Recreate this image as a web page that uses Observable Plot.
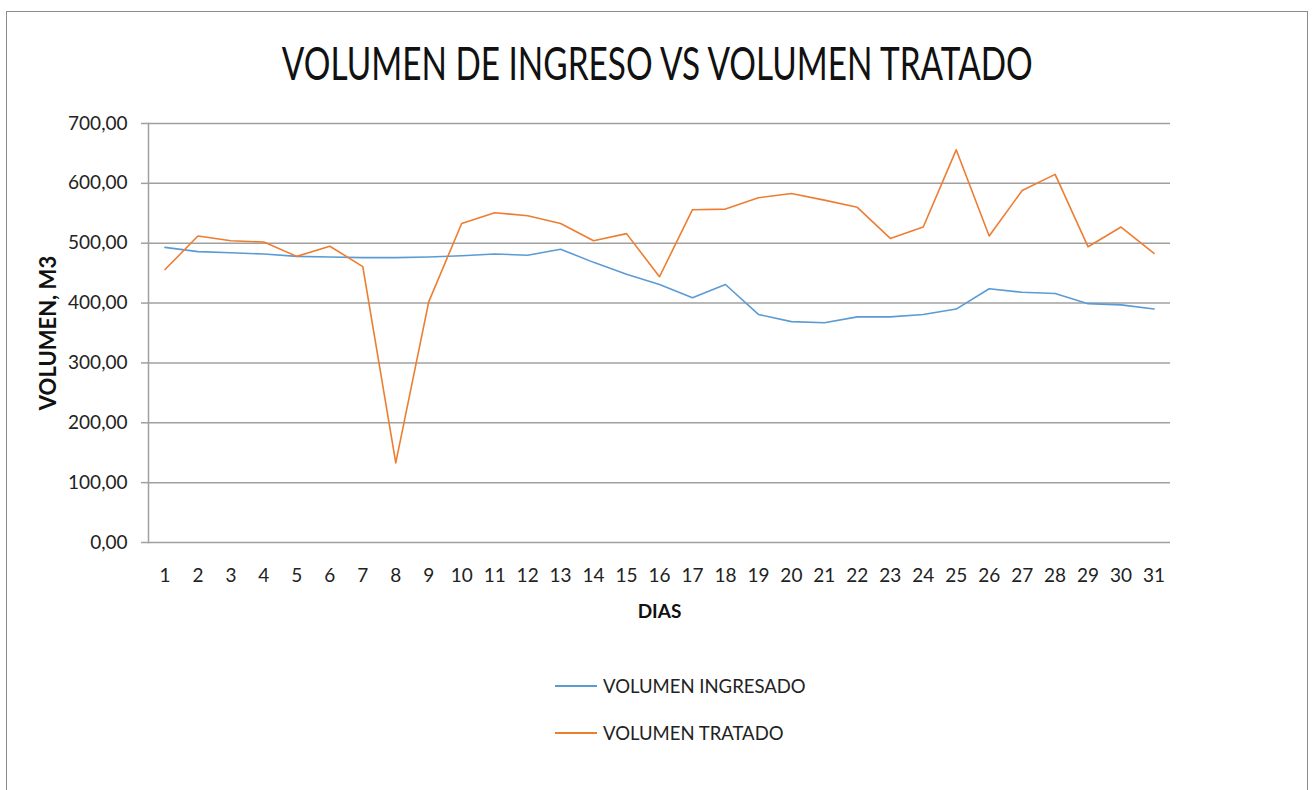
<!DOCTYPE html>
<html>
<head>
<meta charset="utf-8">
<script src="https://cdn.jsdelivr.net/npm/d3@7"></script>
<script src="https://cdn.jsdelivr.net/npm/@observablehq/plot@0.6"></script>
<style>
  html, body { margin: 0; padding: 0; background: #fff; }
  #wrap { position: relative; width: 1314px; height: 790px; overflow: hidden; font-family: Lato, "Open Sans", sans-serif; }
  #frame { position: absolute; left: 6px; top: 11px; width: 1300px; height: 800px; border: 1.5px solid #8c8c8c; border-bottom: none; }
  #title { position: absolute; left: 0; top: 34px; width: 1314px; text-align: center; font-size: 47px; line-height: 56px; color: #111; white-space: nowrap; }
  #title span { display: inline-block; transform-origin: 50% 50%; }
  #chart { position: absolute; left: 0; top: 0; }
  .leg { position: absolute; left: 555px; display: flex; align-items: center; font-size: 18.5px; color: #222; }
  .leg .sw { width: 42px; height: 0; border-top: 2px solid; margin-right: 6px; }
</style>
</head>
<body>
<div id="wrap">
  <div id="frame"></div>
  <div id="chart"></div>
  <div id="title"><span id="titletext"></span></div>
  <div class="leg" style="top:675px"><div class="sw" style="border-color:#5B9BD5"></div><span id="l1"></span></div>
  <div class="leg" style="top:722px"><div class="sw" style="border-color:#ED7D31"></div><span id="l2"></span></div>
</div>
<script>
const titleText = "VOLUMEN DE INGRESO VS VOLUMEN TRATADO";
const days = [1,2,3,4,5,6,7,8,9,10,11,12,13,14,15,16,17,18,19,20,21,22,23,24,25,26,27,28,29,30,31];
const ingresado = [493,486,484,482,478,477,476,476,477,479,482,480,490,468,448,431,409,431,381,369,367,377,377,381,390,424,418,416,399,397,390];
const tratado = [456,512,504,502,478,495,461,133,402,533,551,546,533,504,516,444,556,557,576,583,572,560,508,527,656,512,588,615,494,527,483];
const yTicks = [0,100,200,300,400,500,600,700];
const seriesNames = ["VOLUMEN INGRESADO", "VOLUMEN TRATADO"];
const yLabel = "VOLUMEN, M3";
const xLabel = "DIAS";

const rows = days.map((d, i) => ({dia: d, ingresado: ingresado[i], tratado: tratado[i]}));
const fmt = v => v.toFixed(2).replace(".", ",");
const gridColor = "#a0a0a0";

const chart = Plot.plot({
  width: 1314,
  height: 650,
  marginLeft: 148,
  marginRight: 144,
  marginTop: 123,
  marginBottom: 108,
  style: {fontFamily: "Lato, 'Open Sans', sans-serif", fontSize: "19px", color: "#222", background: "transparent"},
  x: {type: "point", domain: days, padding: 0.5, round: false, label: null},
  y: {domain: [0, 700], label: null},
  marks: [
    Plot.gridY(yTicks, {stroke: gridColor, strokeOpacity: 1, strokeWidth: 1.5}),
    Plot.axisY(yTicks, {tickSize: 7, tickPadding: 14, tickFormat: fmt, label: null, stroke: gridColor, strokeWidth: 1.5}),
    Plot.axisX(days, {tickSize: 0, tickPadding: 26, label: null}),
    Plot.frame({anchor: "left", stroke: gridColor, strokeWidth: 1.5}),
    Plot.lineY(rows, {x: "dia", y: "ingresado", stroke: "#5B9BD5", strokeWidth: 1.6}),
    Plot.lineY(rows, {x: "dia", y: "tratado", stroke: "#ED7D31", strokeWidth: 1.6}),
    Plot.text([yLabel], {frameAnchor: "left", textAnchor: "middle", dx: -100, rotate: -90, fontWeight: "bold", fontSize: 22, fill: "#111"}),
    Plot.text([xLabel], {frameAnchor: "bottom", dy: 75, fontWeight: "bold", fontSize: 19, fill: "#111"})
  ]
});
document.getElementById("chart").appendChild(chart);
document.getElementById("l1").textContent = seriesNames[0];
document.getElementById("l2").textContent = seriesNames[1];
const tspan = document.getElementById("titletext");
tspan.textContent = titleText;
const natural = tspan.getBoundingClientRect().width;
tspan.style.transform = `scaleX(${751 / natural})`;
</script>
</body>
</html>
